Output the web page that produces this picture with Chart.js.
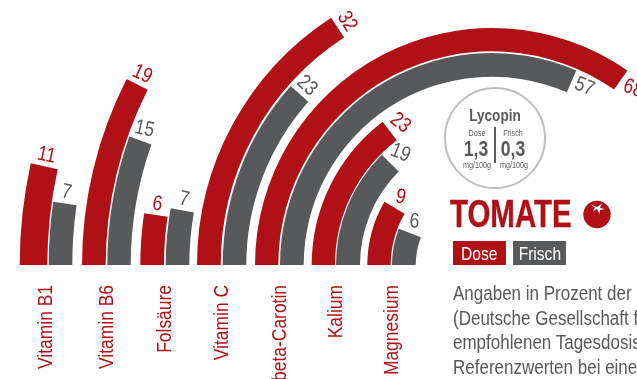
<!DOCTYPE html>
<html lang="de">
<head>
<meta charset="utf-8">
<title>Tomate</title>
<script src="https://cdn.jsdelivr.net/npm/chart.js@4"></script>
<style>
  html, body { margin: 0; padding: 0; width: 637px; height: 379px; overflow: hidden; background: #fff; }
  body { position: relative; font-family: "Liberation Sans", sans-serif; color: #58595b; }
  #rings { position: absolute; left: -8px; top: -235px; }
  .abs { position: absolute; white-space: nowrap; }
  /* no condensed face around, so the type gets squeezed horizontally */
  .mid { transform: translateX(-50%) scaleX(0.8); text-align: center; }
  .left { transform: scaleX(0.85); transform-origin: 0 0; }
  #badge { left: 444px; top: 87px; width: 98px; height: 98px; border: 2px solid #bcbec0; border-radius: 50%; }
  #divider { left: 493.5px; top: 127px; width: 2.2px; height: 36px; background: #58595b; }
  #title { left: 450px; top: 193px; font-size: 38px; line-height: 42px; font-weight: bold; color: #b01116; -webkit-text-stroke: 0.4px #b01116; transform: scaleX(0.775); transform-origin: 0 0; }
  .key { top: 241px; width: 53px; height: 24px; line-height: 25px; font-size: 19px; color: #fff; text-align: center; }
  .key span { display: inline-block; transform: scaleX(0.82); }
  #notes { left: 453px; top: 281px; font-size: 20px; line-height: 24.5px; }
</style>
</head>
<body>
<canvas id="rings" width="1000" height="1000"></canvas>

<div class="abs" id="badge"></div>
<div class="abs mid" style="left:495px;top:106px;font-size:17px;line-height:19px;font-weight:bold">Lycopin</div>
<div class="abs mid" style="left:477px;top:127px;font-size:9px;line-height:12px">Dose</div>
<div class="abs mid" style="left:513px;top:127px;font-size:9px;line-height:12px">Frisch</div>
<div class="abs mid" style="left:476px;top:136px;font-size:22px;line-height:26px;font-weight:bold">1,3</div>
<div class="abs mid" style="left:513px;top:136px;font-size:22px;line-height:26px;font-weight:bold">0,3</div>
<div class="abs mid" style="left:476.5px;top:160px;font-size:9px;line-height:11px">mg/100g</div>
<div class="abs mid" style="left:513.5px;top:160px;font-size:9px;line-height:11px">mg/100g</div>
<div class="abs" id="divider"></div>

<div class="abs" id="title">TOMATE</div>
<svg class="abs" style="left:582px;top:199px" width="30" height="30" viewBox="0 0 30 30">
  <circle cx="15" cy="15.5" r="13.7" fill="#b01116"/>
  <path d="M9 5.5 L15 8 L20 4.5 L18 9 L23 10 L18 11 L17.5 15 L15 10 L11 12 L13 8.5 Z" fill="#fff"/>
</svg>

<div class="abs key" style="left:453px;background:#b01116"><span>Dose</span></div>
<div class="abs key" style="left:513px;background:#58595b"><span>Frisch</span></div>

<div class="abs left" id="notes">Angaben in Prozent der DGE<br>(Deutsche Gesellschaft für Ernährung)<br>empfohlenen Tagesdosis, basierend auf<br>Referenzwerten bei einer Portion</div>

<script>
const categories = ['Vitamin B1', 'Vitamin B6', 'Folsäure', 'Vitamin C', 'beta-Carotin', 'Kalium', 'Magnesium'];
const doseValues = [11, 19, 6, 32, 68, 23, 9];
const freshValues = [7, 15, 7, 23, 57, 19, 6];

// every nutrient sits on its own circular scale, degrees of sweep per percent point
const doseDegPerUnit = [1.13, 1.42, 1.41, 1.78, 1.836, 2.29, 3.38];
const freshDegPerUnit = [1.17, 1.3, 1.43, 1.81, 1.99, 2.37, 3.55];

// ring edges in px from the shared centre: dose outer/inner, fresh outer/inner
const doseEdges = [[472.3, 444.7], [410, 386.3], [351.7, 328], [295, 271.3], [237, 213.7], [180.3, 157], [124.7, 101.3]];
const freshEdges = [[443.3, 419.7], [384.7, 361.3], [326.3, 302.7], [269.3, 245.7], [212, 188.3], [156, 132], [100, 76.3]];

// slant of the value labels in degrees
const doseTilt = [12, 25, 8, 58, 20, 38, 12];
const freshTilt = [12, 12, 12, 42, 22, 22, 3];

const RED = '#b01116';
const GREY = '#58595b';
const OUTER = 500; // half of the canvas
const SQUEEZE = 0.83;

const datasets = [];
let edge = OUTER;

function addRing(label, value, degPerUnit, edges, color, tilt, cat) {
  // transparent ring fills the gap up to this band, and keeps the doughnut centred
  if (edge > edges[0]) {
    datasets.push({ data: [1], backgroundColor: 'transparent', weight: edge - edges[0], circumference: 360 });
  }
  datasets.push({
    label: label,
    data: [value],
    backgroundColor: color,
    weight: edges[0] - edges[1],
    circumference: value * degPerUnit,
    valueColor: color,
    valueTilt: tilt,
    category: cat
  });
  edge = edges[1];
}

categories.forEach(function (name, i) {
  addRing('Dose', doseValues[i], doseDegPerUnit[i], doseEdges[i], RED, doseTilt[i], i);
  addRing('Frisch', freshValues[i], freshDegPerUnit[i], freshEdges[i], GREY, freshTilt[i], i);
});

const ringLabels = {
  id: 'ringLabels',
  afterDatasetsDraw(chart) {
    const ctx = chart.ctx;
    const pairs = {};
    ctx.save();
    ctx.textAlign = 'center';
    ctx.textBaseline = 'middle';
    ctx.font = '21px "Liberation Sans", sans-serif';
    chart.data.datasets.forEach(function (ds, i) {
      if (ds.category === undefined) return;
      const arc = chart.getDatasetMeta(i).data[0];
      (pairs[ds.category] = pairs[ds.category] || []).push(arc);

      // value sits just past the end of the band, along its tangent
      const r = (arc.innerRadius + arc.outerRadius) / 2;
      const a = arc.endAngle;
      const text = String(ds.data[0]);
      const halfW = ctx.measureText(text).width * SQUEEZE / 2;
      const tilt = ds.valueTilt * Math.PI / 180;
      const diff = tilt - (a + Math.PI / 2);
      const pad = 4 + halfW * Math.abs(Math.cos(diff)) + 7 * Math.abs(Math.sin(diff));
      ctx.save();
      ctx.translate(arc.x + r * Math.cos(a) - pad * Math.sin(a), arc.y + r * Math.sin(a) + pad * Math.cos(a));
      ctx.rotate(tilt);
      ctx.scale(SQUEEZE, 1);
      ctx.fillStyle = ds.valueColor;
      ctx.fillText(text, 0, 0);
      ctx.restore();
    });

    // category names read upwards under each pair of bands
    ctx.textAlign = 'right';
    categories.forEach(function (name, i) {
      const [dose, fresh] = pairs[i];
      ctx.save();
      ctx.translate(dose.x - (dose.outerRadius + fresh.innerRadius) / 2 + 0.5, dose.y + 20);
      ctx.rotate(-Math.PI / 2);
      ctx.scale(SQUEEZE, 1);
      ctx.fillStyle = RED;
      ctx.fillText(name, 0, 0);
      ctx.restore();
    });
    ctx.restore();
  }
};

new Chart(document.getElementById('rings').getContext('2d'), {
  type: 'doughnut',
  data: { labels: ['Wert'], datasets: datasets },
  options: {
    responsive: false,
    animation: false,
    rotation: -90,
    cutout: freshEdges[freshEdges.length - 1][1],
    borderWidth: 0,
    layout: { padding: 0 },
    plugins: { legend: { display: false }, tooltip: { enabled: false } }
  },
  plugins: [ringLabels]
});
</script>
</body>
</html>
